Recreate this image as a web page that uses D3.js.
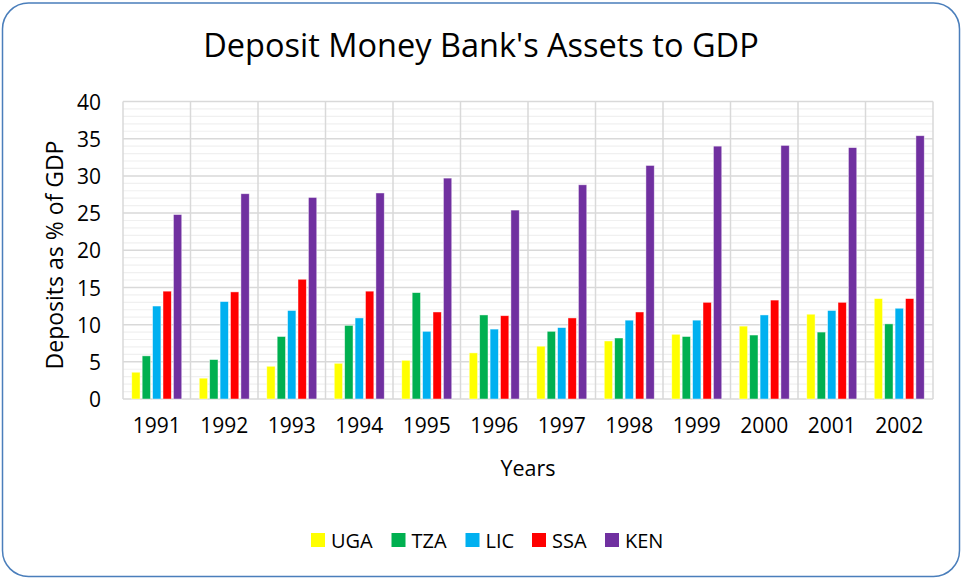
<!DOCTYPE html>
<html>
<head>
<meta charset="utf-8">
<script src="https://cdn.jsdelivr.net/npm/d3@7"></script>
<style>
  body { margin: 0; background: #fff; }
  text { font-family: "Open Sans", sans-serif; fill: #000; }
</style>
</head>
<body>
<svg id="chart" width="962" height="579"></svg>
<script>
const years = ['1991', '1992', '1993', '1994', '1995', '1996', '1997', '1998', '1999', '2000', '2001', '2002'];
const seriesNames = ['UGA', 'TZA', 'LIC', 'SSA', 'KEN'];
const colors = ['#ffff00', '#00b050', '#00b0f0', '#ff0000', '#7030a0'];

const uga = [3.6, 2.8, 4.4, 4.8, 5.2, 6.2, 7.1, 7.8, 8.7, 9.8, 11.4, 13.5];
const tza = [5.8, 5.3, 8.4, 9.9, 14.3, 11.3, 9.1, 8.2, 8.4, 8.6, 9.0, 10.1];
const lic = [12.5, 13.1, 11.9, 10.9, 9.1, 9.4, 9.6, 10.6, 10.6, 11.3, 11.9, 12.2];
const ssa = [14.5, 14.4, 16.1, 14.5, 11.7, 11.2, 10.9, 11.7, 13.0, 13.3, 13.0, 13.5];
const ken = [24.8, 27.6, 27.1, 27.7, 29.7, 25.4, 28.8, 31.4, 34.0, 34.1, 33.8, 35.4];
const yTicks = [0, 5, 10, 15, 20, 25, 30, 35, 40];

const values = [uga, tza, lic, ssa, ken];

const svg = d3.select('#chart');
const W = 962, H = 579;
const m = { left: 123, right: 29, top: 101.5 };

// outer rounded frame
svg.append('rect')
	.attr('x', 2.5).attr('y', 3).attr('width', W - 5).attr('height', H - 5.5)
	.attr('rx', 26).attr('ry', 26)
	.attr('fill', '#fff')
	.attr('stroke', '#4a7ebb')
	.attr('stroke-width', 1.5);

const x0 = d3.scaleBand().domain(years).range([m.left, W - m.right]).padding(0);
const x1 = d3.scaleBand().domain(seriesNames)
	.range([8.75, x0.bandwidth() - 8.75]).paddingInner(0.2).paddingOuter(0);
const y = d3.scaleLinear().domain([0, 40]).range([399, m.top]);

const g = svg.append('g');

// minor gridlines
g.selectAll('line.minor')
	.data(d3.range(0, 41).filter((v) => v % 5 !== 0))
	.enter().append('line')
	.attr('class', 'minor')
	.attr('x1', m.left).attr('x2', W - m.right)
	.attr('y1', (d) => y(d)).attr('y2', (d) => y(d))
	.attr('stroke', '#f0f0f0').attr('stroke-width', 1.2);

// major gridlines
g.selectAll('line.major')
	.data(yTicks)
	.enter().append('line')
	.attr('class', 'major')
	.attr('x1', m.left).attr('x2', W - m.right)
	.attr('y1', (d) => y(d)).attr('y2', (d) => y(d))
	.attr('stroke', '#d9d9d9').attr('stroke-width', 1.5);

// vertical category separators
g.selectAll('line.vert')
	.data(years.concat(['end']))
	.enter().append('line')
	.attr('class', 'vert')
	.attr('x1', (d) => (d === 'end' ? W - m.right : x0(d)))
	.attr('x2', (d) => (d === 'end' ? W - m.right : x0(d)))
	.attr('y1', y(0)).attr('y2', y(40))
	.attr('stroke', '#d9d9d9').attr('stroke-width', 1.5);

// bars
const groups = g.selectAll('g.year')
	.data(years)
	.enter().append('g')
	.attr('class', 'year')
	.attr('transform', (d) => `translate(${x0(d)},0)`);

groups.selectAll('rect')
	.data((d, i) => seriesNames.map((s, j) => ({ s, j, v: values[j][i] })))
	.enter().append('rect')
	.attr('x', (d) => x1(d.s))
	.attr('width', x1.bandwidth())
	.attr('y', (d) => y(d.v))
	.attr('height', (d) => y(0) - y(d.v))
	.attr('fill', (d) => colors[d.j])
	.attr('stroke', '#fff')
	.attr('stroke-opacity', 0.6)
	.attr('stroke-width', 0.75);

// y axis labels
const yAxis = svg.append('g')
	.attr('transform', `translate(${m.left - 22},0)`)
	.call(d3.axisLeft(y).tickValues(yTicks).tickSize(0).tickPadding(0));
yAxis.select('.domain').remove();
yAxis.selectAll('text')
	.attr('font-size', 21)
	.attr('font-family', '"Open Sans", sans-serif')
	.attr('dy', '0.36em');

// x axis labels
const xAxis = svg.append('g')
	.attr('transform', `translate(0,${y(0) + 19})`)
	.call(d3.axisBottom(x0).tickSize(0).tickPadding(0));
xAxis.select('.domain').remove();
xAxis.selectAll('text')
	.attr('font-size', 21)
	.attr('font-family', '"Open Sans", sans-serif');

// titles
svg.append('text')
	.attr('x', 481).attr('y', 57)
	.attr('text-anchor', 'middle')
	.attr('font-size', 32.5)
	.text("Deposit Money Bank's Assets to GDP");

svg.append('text')
	.attr('x', 528).attr('y', 476)
	.attr('text-anchor', 'middle')
	.attr('font-size', 21.5)
	.text('Years');

svg.append('text')
	.attr('transform', 'translate(63,255) rotate(-90)')
	.attr('text-anchor', 'middle')
	.attr('font-size', 23)
	.text('Deposits as % of GDP');

// legend
const legendX = [311, 391.5, 465.5, 532, 605];
const legend = svg.selectAll('g.legend')
	.data(seriesNames)
	.enter().append('g')
	.attr('class', 'legend')
	.attr('transform', (d, i) => `translate(${legendX[i]},533)`);
legend.append('rect')
	.attr('width', 14).attr('height', 14)
	.attr('fill', (d, i) => colors[i]);
legend.append('text')
	.attr('x', 20).attr('y', 14.5)
	.attr('font-size', 20)
	.text((d) => d);
</script>
</body>
</html>
